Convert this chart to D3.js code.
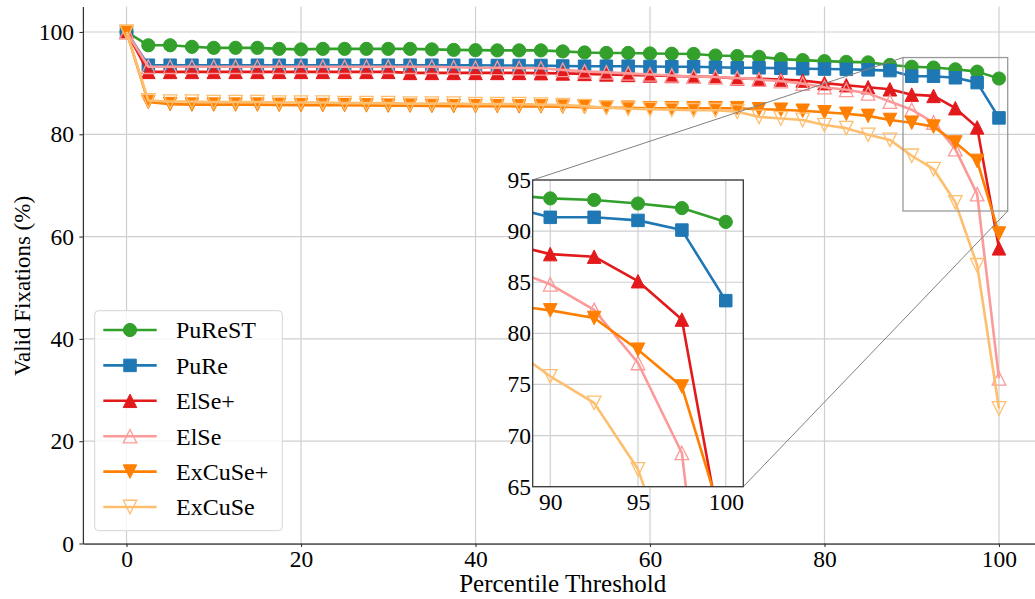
<!DOCTYPE html>
<html><head><meta charset="utf-8">
<script src="https://cdn.jsdelivr.net/npm/d3@7"></script>
<style>
body{margin:0;background:#fff;}
text{font-family:"Liberation Serif","Times New Roman",serif;fill:#000;}
</style>
</head><body>
<svg id="chart" width="1035" height="599"></svg>
<script>
// ---------------- data ----------------
const thresholds = [0,2.5,5,7.5,10,12.5,15,17.5,20,22.5,25,27.5,30,32.5,35,37.5,40,42.5,45,47.5,50,
  52.5,55,57.5,60,62.5,65,67.5,70,72.5,75,77.5,80,82.5,85,87.5,90,92.5,95,97.5,100];

const puRestValues = [100,97.4,97.4,97.1,96.9,96.9,96.9,96.7,96.6,96.7,96.7,96.7,96.7,96.7,96.6,96.5,96.45,96.4,96.4,96.4,96.2,
  96.0,95.9,95.9,95.8,95.75,95.7,95.4,95.3,95.15,94.7,94.5,94.3,94.15,94.05,93.55,93.2,93.05,92.7,92.25,90.9];
const puReValues = [100,93.5,93.5,93.5,93.5,93.5,93.5,93.5,93.5,93.5,93.5,93.5,93.5,93.5,93.5,93.5,93.5,93.45,93.45,93.45,93.35,
  93.3,93.3,93.3,93.25,93.2,93.2,93.1,93.0,93.0,92.9,92.8,92.75,92.7,92.6,92.45,91.35,91.35,91.05,90.1,83.2];
const elSePlusValues = [100,92.2,92.2,92.2,92.2,92.2,92.2,92.2,92.2,92.2,92.2,92.2,92.2,92.0,92.0,92.0,92.0,92.0,92.0,91.95,91.9,
  91.8,91.7,91.6,91.5,91.4,91.3,91.2,90.9,90.85,90.7,90.5,90.0,89.6,89.2,88.8,87.75,87.5,85.1,81.35,57.7];
const elSeValues = [100,93.2,93.2,93.2,93.2,93.2,93.2,93.2,93.2,93.2,93.2,93.2,93.2,93.2,93.2,93.1,93.0,93.0,92.95,92.9,92.6,
  92.3,92.1,91.9,91.7,91.5,91.3,91.2,91.0,90.7,90.4,89.9,89.2,88.7,88.0,86.4,84.8,82.3,77.1,68.3,32.3];
const exCuSePlusValues = [100,86.3,85.9,85.8,85.8,85.8,85.8,85.75,85.7,85.7,85.7,85.65,85.6,85.6,85.55,85.5,85.5,85.5,85.45,85.45,85.4,
  85.3,85.2,85.2,85.1,85.1,85.1,85.1,85.1,84.9,84.8,84.6,84.3,84.0,83.6,82.8,82.25,81.5,78.4,74.8,60.6];
const exCuSeValues = [100,86.6,86.4,86.4,86.3,86.3,86.3,86.2,86.2,86.2,86.1,86.1,86.1,86.0,86.0,86.0,85.9,85.9,85.9,85.8,85.7,
  85.5,85.2,85.0,84.9,84.8,84.7,84.7,84.4,83.4,83.1,82.8,81.8,81.2,79.9,78.9,75.8,73.2,66.7,54.4,26.4];

const seriesNames = ["PuReST","PuRe","ElSe+","ElSe","ExCuSe+","ExCuSe"];
const seriesValues = [puRestValues,puReValues,elSePlusValues,elSeValues,exCuSePlusValues,exCuSeValues];
const seriesColors = ["#33a02c","#1f78b4","#e31a1c","#fb9a99","#ff7f00","#fdbf6f"];
const seriesMarkers = ["circle","square","triUp","triUp","triDown","triDown"];
const seriesFilled = [true,true,true,false,true,false];

const xTicks = [0,20,40,60,80,100];
const yTicks = [0,20,40,60,80,100];
const insetXTicks = [90,95,100];
const insetYTicks = [65,70,75,80,85,90,95];
const xLabel = "Percentile Threshold";
const yLabel = "Valid Fixations (%)";

// ---------------- layout ----------------
const svg = d3.select("#chart");
const x = d3.scaleLinear().domain([-5,105]).range([82.9,1042.6]);
const y = d3.scaleLinear().domain([0,105]).range([543.5,6.4]);
const xi = d3.scaleLinear().domain([89,101]).range([532.7,743.3]);
const yi = d3.scaleLinear().domain([65,95]).range([486.7,180]);
const GRID = "#cfcfcf", SPINE = "#333";

function markerPath(type, s){
  const h = s/2;
  if(type==="square") return `M${-h},${-h}H${h}V${h}H${-h}Z`;
  if(type==="triUp") return `M0,${-h}L${h},${h}L${-h},${h}Z`;
  if(type==="triDown") return `M0,${h}L${h},${-h}L${-h},${-h}Z`;
  return null;
}
function drawMarker(g, type, filled, color, cx, cy){
  if(type==="circle"){
    g.append("circle").attr("cx",cx).attr("cy",cy).attr("r",6.6)
      .attr("fill",filled?color:"none").attr("stroke",color).attr("stroke-width",1);
  } else {
    const s = type==="square"?12.5:13.5;
    g.append("path").attr("d",markerPath(type,s)).attr("transform",`translate(${cx},${cy})`)
      .attr("fill",filled?color:"none").attr("stroke",color).attr("stroke-width",filled?1:1.3)
      .attr("stroke-linejoin","miter");
  }
}
function drawSeries(g, xs, ys){
  seriesValues.forEach((vals,i)=>{
    const pts = thresholds.map((t,j)=>[t,vals[j]]);
    const line = d3.line().x(d=>xs(d[0])).y(d=>ys(d[1]));
    const sg = g.append("g");
    sg.append("path").attr("d",line(pts)).attr("fill","none")
      .attr("stroke",seriesColors[i]).attr("stroke-width",2.6).attr("stroke-linejoin","round");
    pts.forEach(p=>drawMarker(sg, seriesMarkers[i], seriesFilled[i], seriesColors[i], xs(p[0]), ys(p[1])));
  });
}

// ---------------- main axes ----------------
const main = svg.append("g");
main.append("g").selectAll("line").data(xTicks).join("line")
  .attr("x1",d=>x(d)).attr("x2",d=>x(d)).attr("y1",y(0)).attr("y2",y(105))
  .attr("stroke",GRID).attr("stroke-width",1.2);
main.append("g").selectAll("line").data(yTicks).join("line")
  .attr("y1",d=>y(d)).attr("y2",d=>y(d)).attr("x1",x(-5)).attr("x2",x(105))
  .attr("stroke",GRID).attr("stroke-width",1.2);

const xAxis = main.append("g").attr("transform",`translate(0,${y(0)})`)
  .call(d3.axisBottom(x).tickValues(xTicks).tickSize(3.5).tickPadding(3.3).tickSizeOuter(0));
const yAxis = main.append("g").attr("transform",`translate(${x(-5)},0)`)
  .call(d3.axisLeft(y).tickValues(yTicks).tickSize(3.5).tickPadding(5.4).tickSizeOuter(0));
[xAxis,yAxis].forEach(a=>{
  a.select(".domain").attr("stroke",SPINE).attr("stroke-width",1.25);
  a.selectAll(".tick line").attr("stroke",SPINE).attr("stroke-width",1.1);
  a.selectAll(".tick text").attr("font-size",23.5).attr("font-family","Liberation Serif").attr("fill","#000");
});

main.append("text").attr("x",(x(-5)+x(105))/2).attr("y",592).attr("text-anchor","middle")
  .attr("font-size",25).text(xLabel);
main.append("text").attr("transform","translate(30,286) rotate(-90)").attr("text-anchor","middle")
  .attr("font-size",23).text(yLabel);

drawSeries(main.append("g"), x, y);

// zoom rectangle + connectors
const zg = svg.append("g");
zg.append("rect").attr("x",x(89)).attr("y",y(95)).attr("width",x(101)-x(89)).attr("height",y(65)-y(95))
  .attr("fill","none").attr("stroke","#999").attr("stroke-width",1.3);
zg.append("line").attr("x1",x(89)).attr("y1",y(95)).attr("x2",xi(89)).attr("y2",yi(95))
  .attr("stroke","#808080").attr("stroke-width",1);
zg.append("line").attr("x1",x(101)).attr("y1",y(65)).attr("x2",xi(101)).attr("y2",yi(65))
  .attr("stroke","#808080").attr("stroke-width",1);

// ---------------- legend ----------------
const lg = svg.append("g");
lg.append("rect").attr("x",94.7).attr("y",310.7).attr("width",187.6).attr("height",220).attr("rx",4)
  .attr("fill","#fff").attr("fill-opacity",0.8).attr("stroke","#d6d6d6").attr("stroke-width",1);
seriesNames.forEach((name,i)=>{
  const cy = 330 + i*35.4;
  lg.append("line").attr("x1",103.3).attr("x2",156.7).attr("y1",cy).attr("y2",cy)
    .attr("stroke",seriesColors[i]).attr("stroke-width",2.6);
  drawMarker(lg, seriesMarkers[i], seriesFilled[i], seriesColors[i], 130, cy);
  lg.append("text").attr("x",176).attr("y",cy+8.3).attr("font-size",24).text(name);
});

// ---------------- inset axes ----------------
const ins = svg.append("g");
ins.append("rect").attr("x",xi(89)).attr("y",yi(95)).attr("width",xi(101)-xi(89)).attr("height",yi(65)-yi(95))
  .attr("fill","#fff");
svg.append("defs").append("clipPath").attr("id","insetClip").append("rect")
  .attr("x",xi(89)).attr("y",yi(95)).attr("width",xi(101)-xi(89)).attr("height",yi(65)-yi(95));
ins.append("g").selectAll("line").data(insetXTicks).join("line")
  .attr("x1",d=>xi(d)).attr("x2",d=>xi(d)).attr("y1",yi(65)).attr("y2",yi(95))
  .attr("stroke",GRID).attr("stroke-width",1.2);
ins.append("g").selectAll("line").data(insetYTicks).join("line")
  .attr("y1",d=>yi(d)).attr("y2",d=>yi(d)).attr("x1",xi(89)).attr("x2",xi(101))
  .attr("stroke",GRID).attr("stroke-width",1.2);
drawSeries(ins.append("g").attr("clip-path","url(#insetClip)"), xi, yi);
ins.append("rect").attr("x",xi(89)).attr("y",yi(95)).attr("width",xi(101)-xi(89)).attr("height",yi(65)-yi(95))
  .attr("fill","none").attr("stroke",SPINE).attr("stroke-width",1.25);
const ixAxis = ins.append("g").attr("transform",`translate(0,${yi(65)})`)
  .call(d3.axisBottom(xi).tickValues(insetXTicks).tickSize(0).tickPadding(6.6).tickSizeOuter(0));
const iyAxis = ins.append("g").attr("transform",`translate(${xi(89)},0)`)
  .call(d3.axisLeft(yi).tickValues(insetYTicks).tickSize(0).tickPadding(1.7).tickSizeOuter(0));
[ixAxis,iyAxis].forEach(a=>{
  a.select(".domain").remove();
  a.selectAll(".tick text").attr("font-size",23.5).attr("font-family","Liberation Serif").attr("fill","#000");
});
</script>
</body></html>
